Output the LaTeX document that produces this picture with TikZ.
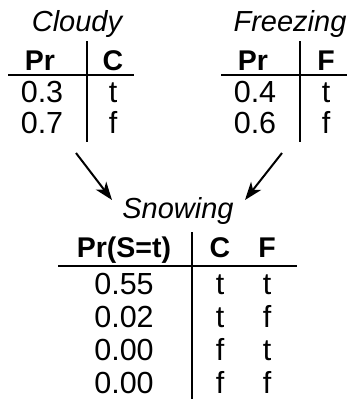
\documentclass[tikz,border=0pt]{standalone}
\usepackage{fontspec}
\setmainfont{Liberation Sans}
\usetikzlibrary{arrows.meta}
\begin{document}
\begin{tikzpicture}[x=1pt,y=-1pt]
% estilos de texto y linea
\tikzstyle{titulo} = [anchor=base,inner sep=0pt,font=\fontsize{29}{35}\selectfont\itshape]
\tikzstyle{encab} = [anchor=base,inner sep=0pt,font=\fontsize{28.5}{34}\selectfont\bfseries]
\tikzstyle{valor} = [anchor=base,inner sep=0pt,font=\fontsize{30.5}{36}\selectfont]
\tikzstyle{regla} = [line width=2pt]
\tikzstyle{flecha} = [line width=2pt,-{Stealth[length=18pt,width=13pt,inset=5pt]}]
\useasboundingbox (0,0) rectangle (351,399);
% definicion tabla de nudo raiz
% #1: abscisa de la linea vertical
% #2: nombre del nudo
% #3: rotulo del nudo
% #4: variable
% #5: probabilidad de t
% #6: probabilidad de f
\newcommand{\tablaraiz}[6]{
\node[titulo] (#2) at (#1-10,31) {#3};
\node[encab] (#2pr) at (#1-47,70) {Pr};
\node[encab] (#2var) at (#1+26,70) {#4};
\node[valor] (#2p1) at (#1-45,102) {#5};
\node[valor] (#2v1) at (#1+26,102) {t};
\node[valor] (#2p2) at (#1-45,133) {#6};
\node[valor] (#2v2) at (#1+26,133) {f};
\draw[regla] (#1,41) -- (#1,142);
\draw[regla] (#1-79,75) -- (#1+47,75);
}
% dibujar tablas de nudos raiz
\tablaraiz{87}{cloudy}{Cloudy}{C}{0.3}{0.7}
\tablaraiz{300}{freezing}{Freezing}{F}{0.4}{0.6}
% dibujar tabla de Snowing
\node[titulo] (snowing) at (178,218) {Snowing};
\node[encab] (snowingpr) at (124,257) {Pr(S=t)};
\node[encab] (snowingc) at (220,257) {C};
\node[encab] (snowingf) at (267,257) {F};
\foreach \p/\c/\f [count=\i] in {0.55/t/t,0.02/t/f,0.00/f/t,0.00/f/f}{
\node[valor] (snowingp\i) at (124,261+33*\i) {\p};
\node[valor] (snowingc\i) at (220,261+33*\i) {\c};
\node[valor] (snowingf\i) at (267,261+33*\i) {\f};
}
\draw[regla] (192,232) -- (192,399);
\draw[regla] (58,266) -- (297,266);
% dibujar flechas
\coordinate (cloudyfl) at (76,153);
\coordinate (freezingfl) at (282,153);
\coordinate (snowingfl1) at (112,200);
\coordinate (snowingfl2) at (245,200);
\draw[flecha] (cloudyfl) -- (snowingfl1);
\draw[flecha] (freezingfl) -- (snowingfl2);
\end{tikzpicture}
\end{document}
